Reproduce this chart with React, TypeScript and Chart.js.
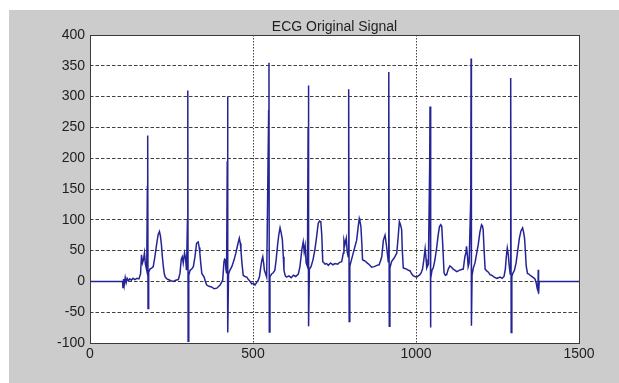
import React, { useEffect, useRef } from "react";
import { Chart, registerables } from "chart.js";

Chart.register(...registerables);

const TITLE = "ECG Original Signal";
const X_TICKS = [0, 500, 1000, 1500];
const Y_TICKS = [-100, -50, 0, 50, 100, 150, 200, 250, 300, 350, 400];

// sample index (time) of each drawn vertex
const SAMPLE_X = [
  0, 100, 101, 103, 105, 108, 111, 114, 118, 122, 127, 132, 138, 144, 150, 155, 158, 161, 164, 167, 170, 174,
  176, 177, 178, 180, 184, 190, 194, 199, 204, 209, 213, 216, 219, 222, 225, 228, 231, 236, 240, 248, 256, 263,
  271, 276, 280, 283, 286, 290, 293, 296, 299, 300, 301, 303, 307, 312, 317, 322, 327, 332, 335, 337, 340, 343,
  350, 354, 358, 365, 373, 381, 389, 395, 399, 403, 407, 411, 413, 415, 417, 419, 421, 422, 423, 425, 429, 435,
  442, 447, 452, 458, 461, 463, 466, 470, 475, 481, 486, 491, 496, 501, 506, 511, 516, 520, 524, 527, 530, 533,
  535, 542, 548, 549, 550, 552, 557, 562, 567, 571, 575, 579, 583, 586, 590, 593, 595, 599, 603, 610, 617, 624,
  631, 639, 644, 647, 650, 654, 657, 660, 663, 667, 669, 670, 671, 673, 678, 684, 690, 695, 700, 704, 708, 711,
  714, 718, 721, 726, 731, 738, 745, 752, 760, 766, 772, 775, 777, 779, 782, 786, 789, 792, 793, 794, 795, 797,
  802, 807, 812, 818, 823, 826, 828, 831, 834, 836, 840, 844, 850, 857, 864, 872, 880, 887, 891, 895, 900, 905,
  909, 912, 915, 916, 917, 918, 920, 925, 933, 941, 945, 949, 952, 956, 958, 961, 966, 971, 977, 982, 987, 992,
  997, 1002, 1007, 1012, 1016, 1020, 1024, 1028, 1031, 1033, 1038, 1042, 1043, 1044, 1046, 1049, 1053, 1058,
  1063, 1068, 1072, 1076, 1079, 1082, 1086, 1090, 1094, 1099, 1104, 1109, 1114, 1120, 1125, 1130, 1137, 1145,
  1150, 1153, 1155, 1158, 1160, 1163, 1168, 1169, 1170, 1172, 1176, 1181, 1186, 1191, 1196, 1201, 1204, 1206,
  1209, 1212, 1217, 1222, 1227, 1232, 1240, 1248, 1253, 1258, 1264, 1270, 1274, 1277, 1280, 1283, 1286, 1289,
  1290, 1291, 1292, 1294, 1297, 1302, 1307, 1312, 1317, 1322, 1327, 1330, 1333, 1336, 1338, 1342, 1346, 1350,
  1355, 1360, 1365, 1369, 1372, 1374, 1375, 1376, 1378, 1500,
];

// ECG amplitude at each vertex
const SAMPLE_Y = [
  0, 0, -11, 4, -6, 6, -2, 5, 1, 4, 2, 5, 3, 5, 4, 12, 43, 30, 35, 46, 28, 18,
  154, 237, -44, 15, 20, 22, 24, 40, 59, 76, 81, 74, 60, 40, 24, 12, 7, 4, 3, 1, 0, 2,
  3, 13, 36, 40, 30, 46, 38, 18, 100, 310, -97, 10, 18, 20, 24, 40, 62, 64, 55, 46, 28, 13,
  7, 0, -6, -8, -9, -12, -11, -8, -6, -2, 2, 32, 36, 35, 20, 13, 195, 300, -83, 12, 18, 24,
  35, 45, 57, 70, 62, 51, 30, 10, 8, 7, 3, 0, -4, -3, -6, -2, 2, 8, 24, 34, 40, 28,
  18, 7, 277, 355, -82, 8, 12, 14, 18, 35, 57, 75, 87, 80, 68, 40, 18, 9, 7, 9, 6, 10,
  8, 12, 24, 38, 52, 64, 48, 58, 30, 24, 249, 318, -73, 20, 24, 35, 52, 72, 94, 98, 97, 75,
  32, 30, 28, 29, 26, 30, 27, 29, 28, 31, 32, 40, 46, 67, 60, 70, 48, 40, 156, 312, -65, 25,
  35, 45, 55, 67, 90, 102, 98, 89, 60, 35, 34, 33, 30, 27, 23, 24, 26, 27, 33, 40, 67, 75,
  60, 46, 32, 127, 340, -73, 22, 32, 38, 46, 70, 97, 93, 84, 50, 22, 21, 20, 18, 17, 12, 9,
  8, 7, 9, 11, 14, 20, 35, 53, 36, 22, 28, 190, 284, -75, 5, 18, 22, 35,
  53, 75, 89, 92, 89, 60, 14, 10, 11, 20, 25, 23, 20, 18, 16, 17, 19, 20,
  40, 46, 57, 40, 24, 30, 135, 362, -72, 10, 22, 30, 45, 60, 80, 92, 90, 84,
  50, 20, 17, 15, 11, 10, 7, 5, 6, 7, 5, 8, 20, 40, 54, 44, 25, 12,
  116, 330, -83, 8, 13, 18, 30, 50, 70, 82, 87, 80, 70, 45, 25, 13, 12, 10,
  8, 6, 4, -3, -12, -15, 19, -20, 0, 0,
];

const FONT = "'Liberation Sans', Arial, Helvetica, sans-serif";
const TEXT_COLOR = "#1e1e1e";
const GRID_COLOR = "rgba(30,30,30,0.85)";

export default function App() {
  const canvasRef = useRef<HTMLCanvasElement>(null);

  useEffect(() => {
    const canvas = canvasRef.current;
    if (!canvas) return;
    const points = SAMPLE_X.map((x, i) => ({ x, y: SAMPLE_Y[i] }));

    const framePlugin = {
      id: "matlabFrame",
      beforeDraw(chart: any) {
        const { ctx, chartArea } = chart;
        ctx.save();
        ctx.fillStyle = "#ffffff";
        ctx.fillRect(chartArea.left, chartArea.top, chartArea.right - chartArea.left, chartArea.bottom - chartArea.top);
        ctx.restore();
      },
      afterDraw(chart: any) {
        const { ctx, chartArea } = chart;
        ctx.save();
        ctx.strokeStyle = "#3a3a3a";
        ctx.lineWidth = 1;
        ctx.strokeRect(
          Math.round(chartArea.left) + 0.5,
          Math.round(chartArea.top) + 0.5,
          Math.round(chartArea.right - chartArea.left),
          Math.round(chartArea.bottom - chartArea.top)
        );
        ctx.restore();
      },
    };

    const gridColor = (min: number, max: number) => (c: any) =>
      c.tick && (c.tick.value === min || c.tick.value === max) ? "rgba(0,0,0,0)" : GRID_COLOR;

    const chart = new Chart(canvas, {
      type: "line",
      data: {
        datasets: [
          {
            label: TITLE,
            data: points,
            borderColor: "rgb(36,36,150)",
            borderWidth: 1.5,
            pointRadius: 0,
            tension: 0,
            fill: false,
          },
        ],
      },
      options: {
        responsive: false,
        animation: false,
        devicePixelRatio: 1,
        layout: { padding: { left: 0, right: 40, top: 10, bottom: 0 } },
        plugins: {
          legend: { display: false },
          tooltip: { enabled: false },
          title: {
            display: true,
            text: TITLE,
            fullSize: false,
            color: TEXT_COLOR,
            font: { family: FONT, size: 14, weight: "normal", lineHeight: 1 },
            padding: { top: 0, bottom: 1 },
          },
        },
        scales: {
          x: {
            type: "linear",
            min: 0,
            max: 1500,
            afterBuildTicks: (s: any) => {
              s.ticks = X_TICKS.map((v) => ({ value: v }));
            },
            afterFit: (s: any) => {
              s.height = 40;
            },
            ticks: {
              color: TEXT_COLOR,
              font: { family: FONT, size: 14 },
              padding: 3,
              maxRotation: 0,
              autoSkip: false,
              callback: (v: any) => String(v),
            },
            grid: { color: gridColor(0, 1500), drawTicks: false, lineWidth: 1 },
            border: { display: false, dash: [1.5, 1.5] },
          },
          y: {
            type: "linear",
            min: -100,
            max: 400,
            afterBuildTicks: (s: any) => {
              s.ticks = Y_TICKS.map((v) => ({ value: v }));
            },
            afterFit: (s: any) => {
              s.width = 81;
            },
            ticks: {
              color: TEXT_COLOR,
              font: { family: FONT, size: 14 },
              padding: 5,
              autoSkip: false,
              callback: (v: any) => String(v),
            },
            grid: { color: gridColor(-100, 400), drawTicks: false, lineWidth: 1 },
            border: { display: false, dash: [3.5, 2] },
          },
        },
      },
      plugins: [framePlugin],
    } as any);

    return () => chart.destroy();
  }, []);

  return (
    <div
      style={{
        position: "absolute",
        left: 9,
        top: 10,
        width: 610,
        height: 373,
        background: "#cccccc",
        overflow: "hidden",
      }}
    >
      <canvas ref={canvasRef} width={610} height={373} style={{ display: "block" }} />
    </div>
  );
}
